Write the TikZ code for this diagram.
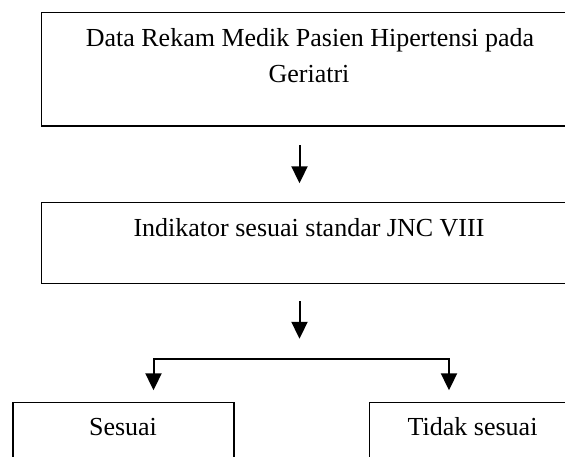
\documentclass[tikz,border=0pt]{standalone}
\usepackage{fontspec}
\setmainfont{Liberation Serif}
\usetikzlibrary{arrows.meta}
\begin{document}
\begin{tikzpicture}[x=1pt,y=-1pt,
  box/.style={draw=black,line width=1.5pt,rectangle,inner sep=0pt,anchor=north west},
  txt/.style={anchor=base,inner sep=0pt,font=\fontsize{26}{30}\selectfont},
  tip/.tip={Triangle[width=16pt,length=17pt]},
  arr/.style={line width=2pt,-tip}]
\useasboundingbox (0,0) rectangle (565,456);
\clip (0,0) rectangle (565,456);
% boxes
\node[box,minimum width=538pt,minimum height=113.3pt] (b1) at (40.7,11.7) {};
\node[box,minimum width=538pt,minimum height=81.2pt] (b2) at (40.7,201.5) {};
\node[box,minimum width=220.7pt,minimum height=80pt] (b3) at (12.3,401.7) {};
\node[box,minimum width=210pt,minimum height=80pt] (b4) at (368.5,401.7) {};
% texts
\node[txt] (t1a) at (310,46) {Data Rekam Medik Pasien Hipertensi pada};
\node[txt] (t1b) at (309,82) {Geriatri};
\node[txt] (t2) at (309,236.7) {Indikator sesuai standar JNC VIII};
\node[txt] (t3) at (123,435.7) {Sesuai};
\node[txt] (t4) at (472.6,435.7) {Tidak sesuai};
% connectors
\coordinate (a1s) at (299.5,145);
\coordinate (a1e) at (299.5,183.3);
\coordinate (a2s) at (299.5,301);
\coordinate (a2e) at (299.5,338.8);
\coordinate (brL) at (153.5,359);
\coordinate (brR) at (449,359);
\coordinate (tL) at (153.5,390.3);
\coordinate (tR) at (449,390.3);
\draw[arr] (a1s) -- (a1e);
\draw[arr] (a2s) -- (a2e);
\draw[line width=2pt,tip-tip] (tL) -- (brL) -- (brR) -- (tR);
\end{tikzpicture}
\end{document}
